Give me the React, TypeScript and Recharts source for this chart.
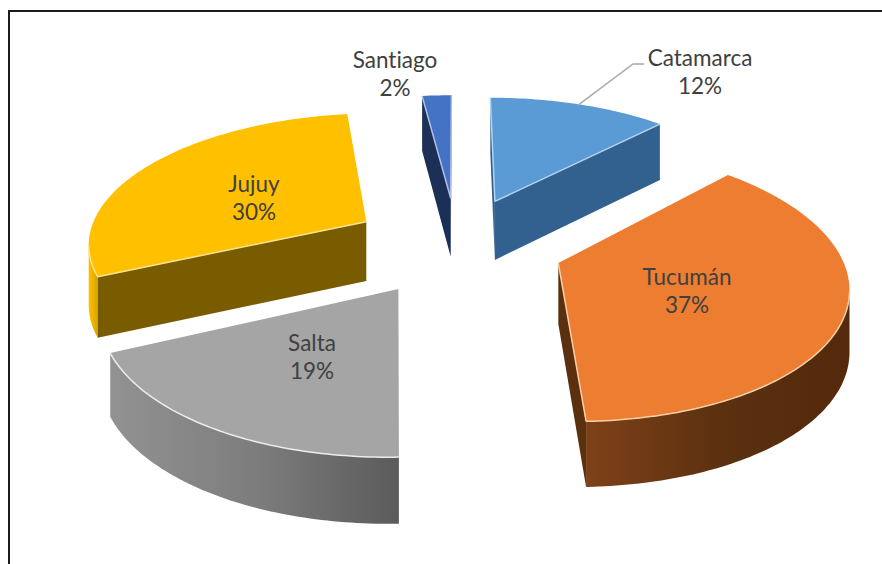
import React from 'react';
import { PieChart, Pie } from 'recharts';

const names = ['Catamarca', 'Tucumán', 'Salta', 'Jujuy', 'Santiago'];
const shares = [12.2, 37.3, 18.6, 29.9, 2.0];

const topColors = ['#5b9bd5', '#ed7d31', '#a5a5a5', '#ffc000', '#4472c4'];
const rimColors = ['#b4d3ee', '#f9cfa8', '#ececec', '#ffe390', '#aebfe8'];
const wallColors = ['#33618f', '#5a300f', '#6a6a6a', '#7a5c00', '#1b2f57'];
const arcStops = [
    ['#33618f', '#33618f'],
    ['#7f4118', '#5c3110', '#54290c'],
    ['#929292', '#7d7d7d', '#5b5b5b'],
    ['#ffc000', '#d9a300'],
    ['#1b2f57', '#1b2f57'],
];

// label centres, two lines each
const labelAt = [[700, 59], [687, 278], [312, 344], [254, 185], [395, 61]];

const VIEW_W = 882;
const VIEW_H = 564;
const CX = 457;
const CY = 245;
const RADIUS = 280;
const EXPLODE = 0.38; // slice offset, fraction of radius
const TILT = 130; // vertical size of one radius
const PERSPECTIVE = 0.143;
const DEPTH = 60;

const rad = (d: number) => (d * Math.PI) / 180;

// theta is clockwise from 12 o'clock, mid is the direction the slice is pulled out
const project = (cx: number, cy: number, R: number, theta: number, mid: number, f: number, down = false) => {
    const x = f * Math.sin(rad(theta)) + EXPLODE * Math.sin(rad(mid));
    const z = f * Math.cos(rad(theta)) + EXPLODE * Math.cos(rad(mid));
    const s = 1 / (1 + PERSPECTIVE * z);
    const px = cx + R * x * s;
    const py = cy - (TILT * z) / (1 + PERSPECTIVE * z) + (down ? DEPTH * Math.sqrt(s) : 0);
    return [px, py];
};

const toPath = (pts: number[][], close = true) =>
    pts.map((p, i) => `${i ? 'L' : 'M'}${p[0].toFixed(1)} ${p[1].toFixed(1)}`).join(' ') + (close ? ' Z' : '');

const Slice3D = (props: any) => {
    const { cx, cy, outerRadius: R, startAngle, endAngle, index } = props;
    const t1 = 90 - startAngle;
    const t2 = 90 - endAngle;
    const mid = (t1 + t2) / 2;
    const at = (t: number, f: number, down = false) => project(cx, cy, R, t, mid, f, down);

    const thetas: number[] = [];
    for (let t = t1; t < t2; t += 1) thetas.push(t);
    thetas.push(t2);

    const apex = at(t1, 0);
    const apexDown = at(t1, 0, true);
    const edge = thetas.map(t => at(t, 1));
    const start = edge[0];
    const end = edge[edge.length - 1];

    // only the stretch of the rim that runs right to left faces the viewer
    const front = thetas.filter(t => at(t + 0.5, 1)[0] < at(t - 0.5, 1)[0]);
    const arcTop = front.map(t => at(t, 1));
    const arcBottom = front.map(t => at(t, 1, true)).reverse();
    const xs = arcTop.map(p => p[0]);
    const gradId = `arc-${index}`;
    const stops = arcStops[index];

    const startVisible = start[0] < apex[0];
    const endVisible = end[0] > apex[0];

    return (
        <g>
            {xs.length > 1 && (
                <>
                    <defs>
                        <linearGradient id={gradId} gradientUnits="userSpaceOnUse" x1={Math.min(...xs)} x2={Math.max(...xs)} y1={0} y2={0}>
                            {stops.map((c, i) => (
                                <stop key={i} offset={i / (stops.length - 1)} stopColor={c} />
                            ))}
                        </linearGradient>
                    </defs>
                    <path d={toPath([...arcTop, ...arcBottom])} fill={`url(#${gradId})`} />
                </>
            )}
            {startVisible && <path d={toPath([apex, start, at(t1, 1, true), apexDown])} fill={wallColors[index]} />}
            {endVisible && <path d={toPath([apex, end, at(t2, 1, true), apexDown])} fill={wallColors[index]} />}
            <path d={toPath([apex, ...edge])} fill={topColors[index]} />
            {arcTop.length > 1 && <path d={toPath(arcTop, false)} fill="none" stroke={rimColors[index]} strokeWidth={1.5} />}
            {startVisible && <path d={toPath([apex, start], false)} fill="none" stroke={rimColors[index]} strokeWidth={1.5} />}
            {endVisible && <path d={toPath([apex, end], false)} fill="none" stroke={rimColors[index]} strokeWidth={1.5} />}
        </g>
    );
};

const SliceLabel = (props: any) => {
    const { index, percent, cx, cy, outerRadius: R, startAngle, endAngle } = props;
    const [x, y] = labelAt[index];
    const t1 = 90 - startAngle;
    const t2 = 90 - endAngle;
    // Catamarca sits outside its slice and gets a leader line
    const tip = index === 0 ? project(cx, cy, R, t1 + (t2 - t1) * 0.5, (t1 + t2) / 2, 1) : null;
    return (
        <g>
            {tip && <polyline points={`${tip[0]},${tip[1]} 633,64 644,64`} fill="none" stroke="#a6a6a6" strokeWidth={1.3} />}
            <text x={x} y={y} textAnchor="middle" fontFamily="Lato, sans-serif" fontSize={22.5} fill="#404040" style={{ fontVariantLigatures: 'none' }}>
                <tspan x={x} dy={7}>{names[index]}</tspan>
                <tspan x={x} dy={28}>{`${Math.round(percent * 100)}%`}</tspan>
            </text>
        </g>
    );
};

const sliceData = names.map((name, i) => ({ name, value: shares[i], fill: topColors[i] }));

export default function App() {
    return (
        <div style={{ position: 'absolute', left: 0, top: 0, width: VIEW_W, height: VIEW_H, background: '#fff', overflow: 'hidden' }}>
            <div style={{ position: 'absolute', left: 8, top: 10, right: 0, bottom: 0, borderLeft: '2px solid #1c1c1c', borderTop: '2px solid #1c1c1c' }} />
            <div style={{ position: 'absolute', left: 0, top: 0 }}>
                <PieChart width={VIEW_W} height={VIEW_H} margin={{ top: 0, right: 0, bottom: 0, left: 0 }}>
                    <Pie
                        data={sliceData}
                        dataKey="value"
                        nameKey="name"
                        cx={CX}
                        cy={CY}
                        innerRadius={0}
                        outerRadius={RADIUS}
                        startAngle={90}
                        endAngle={-270}
                        stroke="none"
                        isAnimationActive={false}
                        shape={Slice3D}
                        label={SliceLabel}
                        labelLine={false}
                    />
                </PieChart>
            </div>
        </div>
    );
}
